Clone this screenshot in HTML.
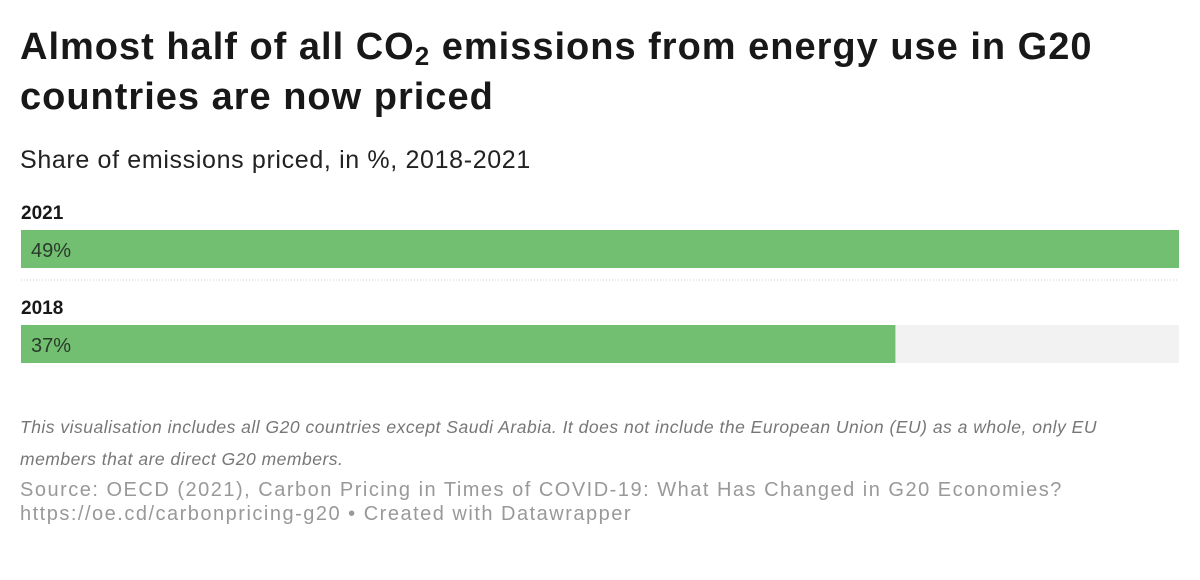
<!DOCTYPE html>
<html><head><meta charset="utf-8"><style>
body{margin:0;width:1200px;height:548px;background:#fff;font-family:"Liberation Sans",sans-serif;position:relative;overflow:hidden}
.t{position:absolute;left:20px;}
</style></head><body>
<div class="t" style="top:22px;font-size:38px;font-weight:bold;line-height:50px;letter-spacing:1px;color:#181818;width:1120px">Almost half of all CO<sub style="font-size:26px;line-height:0;vertical-align:-6px">2</sub> emissions from energy use in G20 countries are now priced</div>
<div class="t" style="top:146px;font-size:25px;letter-spacing:0.65px;color:#222">Share of emissions priced, in %, 2018-2021</div>
<svg id="chart" width="1200" height="390" style="position:absolute;left:0;top:190px"></svg>
<div class="t" style="top:411px;font-size:17.5px;letter-spacing:0.5px;font-style:italic;color:#777;line-height:32px;width:1110px">This visualisation includes all G20 countries except Saudi Arabia. It does not include the European Union (EU) as a whole, only EU members that are direct G20 members.</div>
<div class="t" style="top:478px;font-size:20px;letter-spacing:1.5px;color:#999;line-height:24px">Source: OECD (2021), Carbon Pricing in Times of COVID-19: What Has Changed in G20 Economies?<br>https://oe.cd/carbonpricing-g20 • Created with Datawrapper</div>
<script>
const categories=["2021","2018"];
const values=[49,37];
const maxValue=49;
const svg=document.getElementById('chart');
const ns='http://www.w3.org/2000/svg';
const x0=21,w=1158;
function xs(v){return v/maxValue*w;}
categories.forEach((c,i)=>{
  const top=i*95;
  const lab=document.createElementNS(ns,'text');
  
  
  lab.setAttribute('x',21);lab.setAttribute('y',top+29);
  lab.setAttribute('font-size','19');lab.setAttribute('font-weight','bold');lab.setAttribute('fill','#181818');
  lab.textContent=c;svg.appendChild(lab);
  const bg=document.createElementNS(ns,'rect');
  
  
  bg.setAttribute('x',x0);bg.setAttribute('y',top+40);bg.setAttribute('width',w);bg.setAttribute('height',38);bg.setAttribute('fill','#f2f2f2');
  svg.appendChild(bg);
  const r=document.createElementNS(ns,'rect');
  
  
  r.setAttribute('x',x0);r.setAttribute('y',top+40);r.setAttribute('width',xs(values[i]));r.setAttribute('height',38);r.setAttribute('fill','#72bf72');
  svg.appendChild(r);
  const v=document.createElementNS(ns,'text');
  
  
  v.setAttribute('x',31);v.setAttribute('y',top+67);v.setAttribute('font-size','20');v.setAttribute('fill','#2a3a2a');
  v.textContent=values[i]+'%';svg.appendChild(v);
  if(i<categories.length-1){
    const l=document.createElementNS(ns,'line');
    
    
    l.setAttribute('x1',x0);l.setAttribute('x2',x0+w);l.setAttribute('y1',top+90);l.setAttribute('y2',top+90);
    l.setAttribute('stroke','#ccc');l.setAttribute('stroke-dasharray','1,2');
    svg.appendChild(l);
  }
});
</script>
</body></html>
